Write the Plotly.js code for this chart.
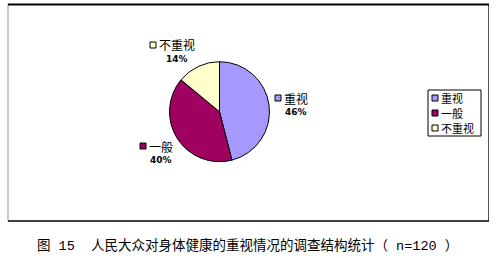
<!DOCTYPE html>
<html><head><meta charset="utf-8">
<script src="https://cdn.plot.ly/plotly-3.0.1.min.js"></script>
<style>html,body{margin:0;padding:0;background:#fff;overflow:hidden;} #chart{width:496px;height:258px;}</style>
</head><body><div id="chart"></div>
<script>
// ---- data ----
const categories = ['重视', '一般', '不重视'];
const values = [46, 40, 14];
const percentLabels = ['46%', '40%', '14%'];
const colors = ['#A599FF', '#A00060', '#FFFFCC'];
const captionText = '图 15  人民大众对身体健康的重视情况的调查结构统计（ n=120 ）';

// ---- layout helpers (pixel -> paper) ----
const W = 496, H = 258;
const px = x => x / W;
const py = y => 1 - y / H;

// pie placement (pixels)
const cx = 219.5, cy = 111.7, R = 50;
// label anchor positions (pixels): left edge of key square, centre y of name line
const labelPos = [[275, 98], [140, 146], [150, 45]];
const cjk = '"Noto Sans CJK SC", "Noto Sans", sans-serif';
const capFont = '"Liberation Mono", "Noto Sans CJK SC", monospace';

const annotations = [];
const shapes = [];

categories.forEach((c, i) => {
  const [lx, ly] = labelPos[i];
  shapes.push({type: 'rect', xref: 'paper', yref: 'paper',
    x0: px(lx), x1: px(lx + 6), y0: py(ly + 3), y1: py(ly - 3),
    fillcolor: colors[i], line: {color: '#000', width: 1}});
  annotations.push({xref: 'paper', yref: 'paper', x: px(lx + 8), y: py(ly),
    xanchor: 'left', yanchor: 'middle', showarrow: false, text: c, borderpad: 0,
    font: {family: cjk, size: 12, color: '#000'}});
  const nameW = c.length * 12;
  annotations.push({xref: 'paper', yref: 'paper', x: px(lx + 9 + nameW / 2), y: py(ly + 14),
    xanchor: 'center', yanchor: 'middle', showarrow: false, borderpad: 0,
    text: '<b>' + percentLabels[i] + '</b>',
    font: {family: '"DejaVu Sans", sans-serif', size: 9, color: '#000'}});
});

// manual legend
const legX = 428, legY = 90, legRow = 15;
shapes.push({type: 'rect', xref: 'paper', yref: 'paper',
  x0: px(legX), x1: px(481), y0: py(legY), y1: py(legY + 3 * legRow + 1),
  fillcolor: '#fff', line: {color: '#000', width: 1}, layer: 'below'});
categories.forEach((c, i) => {
  const yy = legY + 8 + i * legRow;
  shapes.push({type: 'rect', xref: 'paper', yref: 'paper',
    x0: px(legX + 4), x1: px(legX + 10), y0: py(yy + 3), y1: py(yy - 3),
    fillcolor: colors[i], line: {color: '#000', width: 1}});
  annotations.push({xref: 'paper', yref: 'paper', x: px(legX + 12), y: py(yy),
    xanchor: 'left', yanchor: 'middle', showarrow: false, text: c, borderpad: 0,
    font: {family: cjk, size: 11, color: '#000'}});
});

// frame
shapes.push({type: 'line', xref: 'paper', yref: 'paper', x0: px(8), x1: px(8), y0: py(4), y1: py(221), line: {color: '#999', width: 1}});
shapes.push({type: 'line', xref: 'paper', yref: 'paper', x0: px(488.5), x1: px(488.5), y0: py(4), y1: py(221), line: {color: '#555', width: 1}});
shapes.push({type: 'line', xref: 'paper', yref: 'paper', x0: px(8), x1: px(489), y0: py(4.5), y1: py(4.5), line: {color: '#000', width: 2}});
shapes.push({type: 'line', xref: 'paper', yref: 'paper', x0: px(8), x1: px(489), y0: py(221), y1: py(221), line: {color: '#000', width: 1.5}});

// caption
annotations.push({xref: 'paper', yref: 'paper', x: px(35), y: py(245), xanchor: 'left', yanchor: 'middle',
  showarrow: false, text: captionText, font: {family: capFont, size: 13.5, color: '#000'}});

const trace = {
  type: 'pie', labels: categories, values: values, sort: false,
  direction: 'clockwise', rotation: 0,
  marker: {colors: colors, line: {color: '#000', width: 1}},
  textinfo: 'none', hoverinfo: 'none', showlegend: false,
  domain: {x: [px(cx - R), px(cx + R)], y: [py(cy + R), py(cy - R)]}
};

Plotly.newPlot('chart', [trace], {
  width: W, height: H, margin: {l: 0, r: 0, t: 0, b: 0},
  paper_bgcolor: '#fff', plot_bgcolor: '#fff', showlegend: false,
  shapes: shapes, annotations: annotations
}, {staticPlot: true});
</script></body></html>
